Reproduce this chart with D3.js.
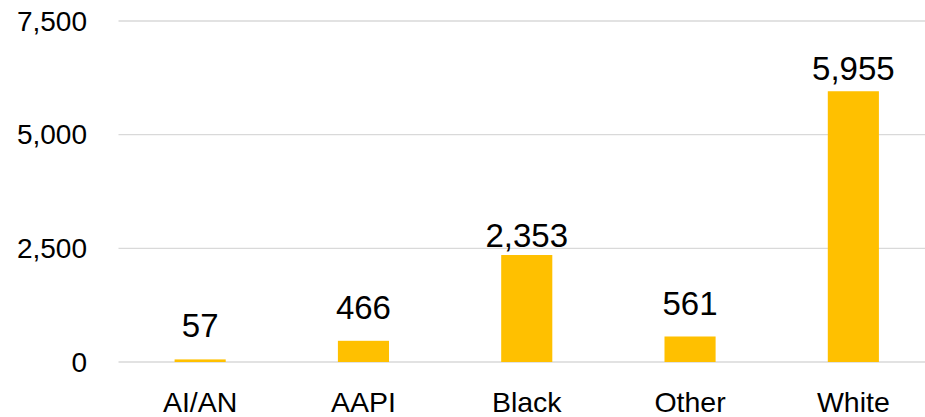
<!DOCTYPE html>
<html>
<head>
<meta charset="utf-8">
<script src="https://cdn.jsdelivr.net/npm/d3@7"></script>
<style>
  body { margin: 0; background: #fff; }
  text { font-family: "Liberation Sans", Arial, sans-serif; fill: #000; }
</style>
</head>
<body>
<svg id="chart" width="925" height="417"></svg>
<script>
const categories = ['AI/AN', 'AAPI', 'Black', 'Other', 'White']
const values = [57, 466, 2353, 561, 5955]
const yTicks = [0, 2500, 5000, 7500]

const svg = d3.select('#chart')
const plotLeft = 118.5
const plotRight = 935
const plotTop = 21
const plotBottom = 362
// label gap above each bar (labels were nudged by hand in the original)
const labelGap = [22, 22, 8, 21, 11]

const x = d3.scaleBand().domain(categories).range([plotLeft, plotRight]).padding(0)
const y = d3.scaleLinear().domain([0, 7500]).range([plotBottom, plotTop])
const fmt = d3.format(',')
const barW = x.bandwidth() * 0.313

// gridlines + y labels
svg.append('g').selectAll('line').data(yTicks).enter().append('line')
  .attr('x1', plotLeft).attr('x2', plotRight)
  .attr('y1', d => y(d)).attr('y2', d => y(d))
  .attr('stroke', '#d9d9d9').attr('stroke-width', 1.3)

svg.append('g').selectAll('text').data(yTicks).enter().append('text')
  .attr('x', 87).attr('y', d => y(d))
  .attr('dy', '0.35em')
  .attr('text-anchor', 'end')
  .style('font-size', '28px')
  .text(d => fmt(d))

// bars
svg.append('g').selectAll('rect').data(values).enter().append('rect')
  .attr('x', (d, i) => x(categories[i]) + x.bandwidth() / 2 - barW / 2)
  .attr('width', barW)
  .attr('y', d => y(d))
  .attr('height', d => y(0) - y(d))
  .attr('fill', '#ffc000')

// value labels
svg.append('g').selectAll('text').data(values).enter().append('text')
  .attr('x', (d, i) => x(categories[i]) + x.bandwidth() / 2)
  .attr('y', (d, i) => y(d) - labelGap[i])
  .attr('text-anchor', 'middle')
  .style('font-size', '33px')
  .text(d => fmt(d))

// category labels
svg.append('g').selectAll('text').data(categories).enter().append('text')
  .attr('x', d => x(d) + x.bandwidth() / 2)
  .attr('y', 412)
  .attr('text-anchor', 'middle')
  .style('font-size', '28.5px')
  .text(d => d)
</script>
</body>
</html>
